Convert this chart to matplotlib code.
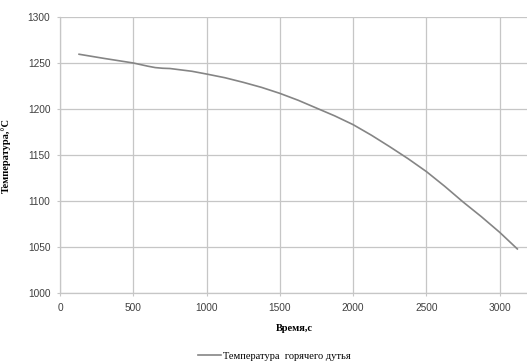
import matplotlib
matplotlib.use("Agg")
import matplotlib.pyplot as plt

# время, с и температура горячего дутья, °C
time_s = [130, 300, 500, 600, 650, 700, 750, 900, 1000, 1125, 1250, 1375, 1500, 1625, 1750, 1875,
          2000, 2125, 2250, 2375, 2500, 2625, 2750, 2875, 3000, 3120]
temp_c = [1259.5, 1255, 1250, 1246.5, 1245, 1244.3, 1244, 1241, 1238, 1234, 1229, 1223.5, 1217, 1209.5,
          1201, 1192.5, 1183, 1171.5, 1159, 1146, 1132, 1116, 1099, 1083, 1066, 1048]

x_ticks = [0, 500, 1000, 1500, 2000, 2500, 3000]
y_ticks = [1000, 1050, 1100, 1150, 1200, 1250, 1300]

grid_col = "#c6c6c6"

fig = plt.figure(figsize=(5.27, 3.61), dpi=100)
ax = fig.add_axes([0.1139, 0.188, 0.89, 0.765])

ax.plot(time_s, temp_c, color="#858585", lw=1.2, label="Температура  горячего дутья")

ax.set_xlim(0, 3200)
ax.set_ylim(1000, 1300)
ax.set_xticks(x_ticks)
ax.set_yticks(y_ticks)
ax.grid(True, color=grid_col, lw=0.9)
ax.set_axisbelow(True)
for s in ["top", "right"]:
    ax.spines[s].set_visible(False)
for s in ["left", "bottom"]:
    ax.spines[s].set_color(grid_col)
    ax.spines[s].set_linewidth(0.9)
ax.tick_params(length=2, color=grid_col, labelsize=7.3, labelcolor="#404040", pad=5)
for lab in ax.get_xticklabels() + ax.get_yticklabels():
    lab.set_family("Liberation Sans")

ax.set_xlabel("Время,с", family="Liberation Serif", fontweight="bold", fontsize=7.5, labelpad=8)
ax.set_ylabel("Температура,°C", family="Liberation Serif", fontweight="bold", fontsize=7.5, labelpad=12)

fig.legend(loc="lower center", bbox_to_anchor=(0.52, -0.025), frameon=False,
           prop={"family": "Liberation Serif", "size": 7.5}, handlelength=2.2, handletextpad=0.2)

fig.savefig("out.png", dpi=100)
